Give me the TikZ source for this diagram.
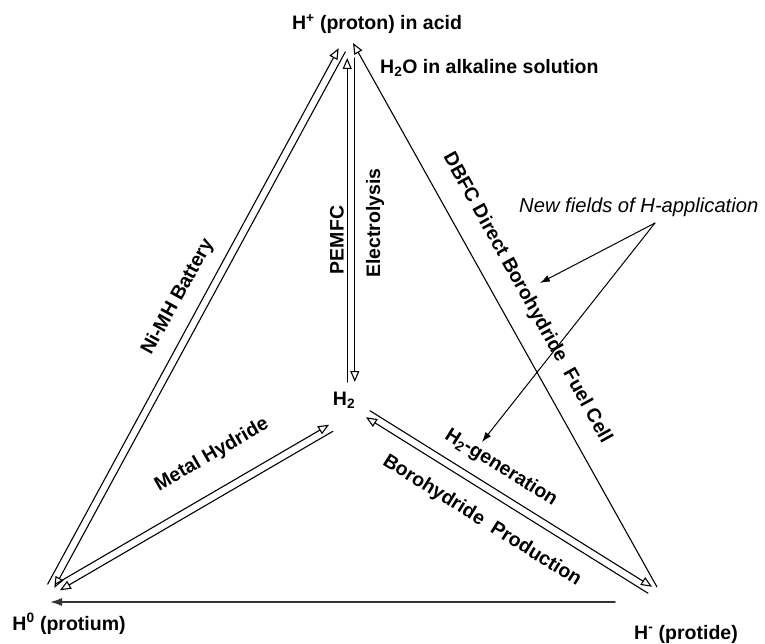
\documentclass[tikz,border=0pt]{standalone}
\usepackage{fontspec}
\setmainfont{Liberation Sans}
\usetikzlibrary{arrows.meta,calc}

\providecommand{\routeGap}{3.8pt}
\providecommand{\routeWidth}{1.1pt}

\tikzset{
  lbl/.style={font=\fontsize{19.5}{22}\selectfont\bfseries, inner sep=0pt},
  note/.style={font=\fontsize{20.2}{23}\selectfont\itshape, inner sep=0pt},
  route/.style={line width=\routeWidth, -{Triangle[open,length=11pt,width=9pt]}},
  pointer/.style={line width=1pt, -{Latex[length=10pt,width=7pt]}},
}

% two opposite routes drawn side by side between two ends
\newcommand{\routepair}[2]{%
  \draw[route] ($(#1)!\routeGap!90:(#2)$) -- ($(#2)!\routeGap!-90:(#1)$);
  \draw[route] ($(#2)!\routeGap!90:(#1)$) -- ($(#1)!\routeGap!-90:(#2)$);
}

\begin{document}
\begin{tikzpicture}[x=1pt, y=-1pt, line cap=round, line join=round]
\useasboundingbox (0,0) rectangle (765,644);
% the four hydrogen states
\node[lbl] (proton) at (377,24) {H\textsuperscript{+} (proton) in acid};
\node[lbl, anchor=west] (water) at (380,68) {H\textsubscript{2}O in alkaline solution};
\node[lbl] (hydrogen) at (344,400) {H\textsubscript{2}};
\node[lbl] (protium) at (69,624) {H\textsuperscript{0} (protium)};
\node[lbl] (protide) at (686,634) {H\textsuperscript{-} (protide)};
\node[note, anchor=west] (newfields) at (519,207) {New fields of H-application};
% ends of the routes
\coordinate (nimhLow) at (51,586);
\coordinate (nimhTop) at (342,50);
\coordinate (elysLow) at (351,382);
\coordinate (elysTop) at (351,58);
\coordinate (mhLow) at (58,587);
\coordinate (mhTop) at (331,428);
\coordinate (bhLow) at (650,590);
\coordinate (bhTop) at (368,414);
\coordinate (dbfcLow) at (657,587);
\coordinate (dbfcTop) at (353,43);
\coordinate (baseRight) at (615,602);
\coordinate (baseLeft) at (50,602);
\coordinate (noteApex) at (655,223);
\coordinate (noteA) at (540,283);
\coordinate (noteB) at (482,442);
% double routes
\routepair{nimhLow}{nimhTop}
\routepair{elysLow}{elysTop}
\routepair{mhLow}{mhTop}
\routepair{bhLow}{bhTop}
% single routes
\draw[route] (dbfcLow) -- (dbfcTop);
\draw[line width=1.6pt, black!80, -{Latex[length=12pt,width=8pt]}] (baseRight) -- (baseLeft);
\draw[pointer] (noteApex) -- (noteA);
\draw[pointer] (noteApex) -- (noteB);
% route labels
\node[lbl, rotate=61] (nimh) at (178,297) {Ni-MH Battery};
\node[lbl, rotate=30] (mh) at (212,455) {Metal Hydride};
\node[lbl, rotate=90] (pemfc) at (337,240) {PEMFC};
\node[lbl, rotate=90] (elys) at (375,223) {Electrolysis};
\node[lbl, rotate=-32] (gen) at (501,468) {H\textsubscript{2}-generation};
\node[lbl, rotate=-32] (bhprod) at (482,521) {Borohydride\ \ Production};
\node[lbl, rotate=-61] (dbfc) at (527,298) {DBFC Direct Borohydride\ \ Fuel Cell};
\end{tikzpicture}
\end{document}
